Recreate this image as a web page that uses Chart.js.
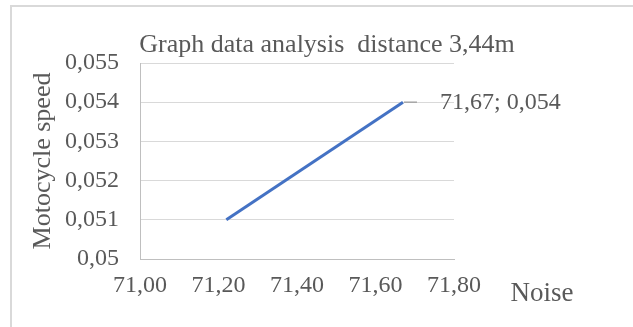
<!DOCTYPE html>
<html>
<head>
<meta charset="utf-8">
<script src="https://cdn.jsdelivr.net/npm/chart.js@4/dist/chart.umd.min.js"></script>
<style>
html,body{margin:0;padding:0;background:#fff;}
#wrap{width:633px;height:327px;position:relative;}
</style>
</head>
<body>
<div id="wrap"><canvas id="c" width="633" height="327"></canvas></div>
<script>
const noise = [71.22, 71.67];
const speed = [0.051, 0.054];
const xTickLabels = ["71,00", "71,20", "71,40", "71,60", "71,80"];
const yTickLabels = ["0,05", "0,051", "0,052", "0,053", "0,054", "0,055"];
const chartTitle = "Graph data analysis  distance 3,44m";
const xTitle = "Noise";
const yTitle = "Motocycle speed";
const pointLabel = "71,67; 0,054";

const TXT = '#595959';
const FONT = '"Liberation Serif", "Times New Roman", serif';

const points = noise.map((x, i) => ({x: x, y: speed[i]}));

const decor = {
  id: 'decor',
  beforeDraw(chart) {
    const ctx = chart.ctx;
    ctx.save();
    ctx.fillStyle = '#fff';
    ctx.fillRect(0, 0, chart.width, chart.height);
    ctx.strokeStyle = '#d9d9d9';
    ctx.lineWidth = 2;
    ctx.beginPath();
    ctx.moveTo(11, chart.height + 2);
    ctx.lineTo(11, 6);
    ctx.lineTo(chart.width + 2, 6);
    ctx.stroke();
    ctx.restore();
  },
  afterDraw(chart) {
    const ctx = chart.ctx;
    const xs = chart.scales.x, ys = chart.scales.y;
    ctx.save();
    ctx.fillStyle = TXT;
    ctx.textAlign = 'center';
    ctx.textBaseline = 'middle';
    // title
    ctx.font = '26px ' + FONT;
    ctx.fillText(chartTitle, 327, 45);
    // x title
    ctx.font = '27px ' + FONT;
    ctx.fillText(xTitle, 542, 294);
    // y title
    ctx.font = '26px ' + FONT;
    ctx.save();
    ctx.translate(43, 161);
    ctx.rotate(-Math.PI / 2);
    ctx.fillText(yTitle, 0, 0);
    ctx.restore();
    // data label with leader line
    const last = points[points.length - 1];
    const px = xs.getPixelForValue(last.x);
    const py = ys.getPixelForValue(last.y);
    ctx.strokeStyle = '#a6a6a6';
    ctx.lineWidth = 1.5;
    ctx.beginPath();
    ctx.moveTo(px + 1, py);
    ctx.lineTo(px + 14, py);
    ctx.stroke();
    ctx.font = '24px ' + FONT;
    ctx.textAlign = 'left';
    ctx.fillText(pointLabel, px + 37, py + 1);
    ctx.restore();
  }
};

new Chart(document.getElementById('c'), {
  type: 'scatter',
  data: {
    datasets: [{
      data: points,
      showLine: true,
      borderColor: '#4472C4',
      backgroundColor: '#4472C4',
      borderWidth: 3,
      pointRadius: 0,
      pointHoverRadius: 0,
      borderCapStyle: 'butt'
    }]
  },
  options: {
    responsive: false,
    animation: false,
    events: [],
    layout: {padding: {left: 0, right: 179, top: 63, bottom: 0}},
    plugins: {legend: {display: false}, tooltip: {enabled: false}, title: {display: false}},
    scales: {
      x: {
        type: 'linear',
        min: 71.0, max: 71.8,
        afterFit(s) { s.height = 68; },
        afterBuildTicks(s) { s.ticks = xTickLabels.map((l, i) => ({value: 71.0 + i * 0.2})); },
        ticks: {
          color: TXT,
          font: {family: FONT, size: 24},
          padding: 12,
          maxRotation: 0,
          autoSkip: false,
          callback: (v, i) => xTickLabels[i]
        },
        grid: {display: false, drawTicks: false},
        border: {display: true, color: '#bfbfbf', width: 1}
      },
      y: {
        type: 'linear',
        min: 0.05, max: 0.055,
        afterFit(s) { s.width = 140; },
        afterBuildTicks(s) { s.ticks = yTickLabels.map((l, i) => ({value: 0.05 + i * 0.001})); },
        ticks: {
          color: TXT,
          font: {family: FONT, size: 24},
          padding: 21,
          autoSkip: false,
          callback: (v, i) => yTickLabels[i]
        },
        grid: {color: '#d9d9d9', lineWidth: 1, drawTicks: false},
        border: {display: true, color: '#bfbfbf', width: 1}
      }
    }
  },
  plugins: [decor]
});
</script>
</body>
</html>
